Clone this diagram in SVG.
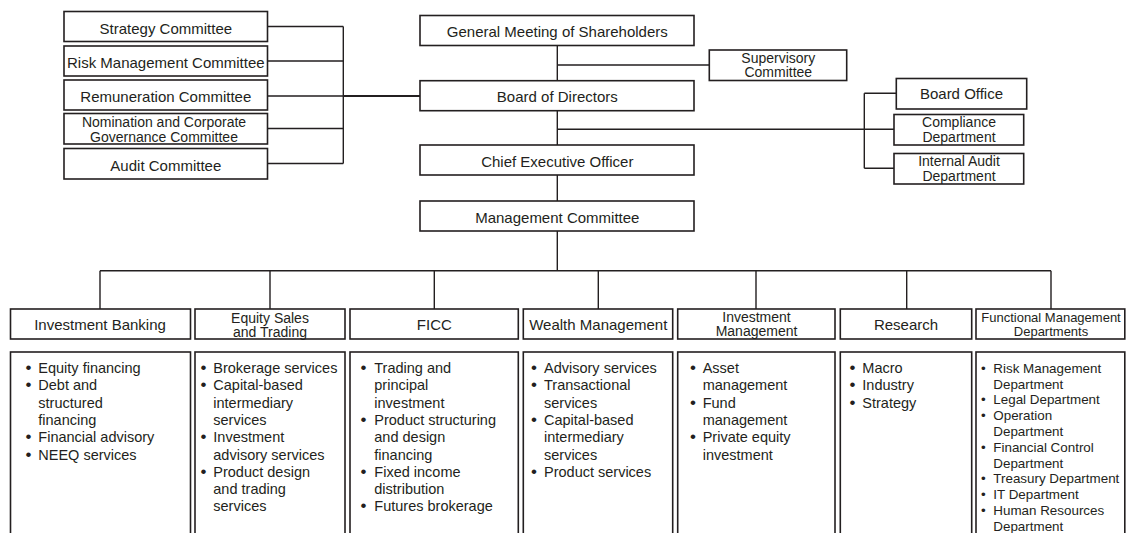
<svg xmlns="http://www.w3.org/2000/svg" width="1126" height="533" viewBox="0 0 1126 533">
  <style>
    .box { fill: #ffffff; stroke: #231f20; stroke-width: 1.6; }
    .ln { fill: none; stroke: #231f20; stroke-width: 1.4; }
    .thick { fill: none; stroke: #231f20; stroke-width: 2.2; }
    text { font-family: "Liberation Sans", Arial, sans-serif; fill: #231f20; }
    .t { font-size: 15px; text-anchor: middle; }
    .s { font-size: 14px; text-anchor: middle; }
    .fm { font-size: 13px; text-anchor: middle; }
    .li { font-size: 14.5px; }
    .lf { font-size: 13.4px; }
    .b { font-size: 17px; }
  </style>
  <rect width="1126" height="533" fill="#ffffff"/>

  <!-- connectors -->
  <g id="connectors">
    <!-- board committees -->
    <path class="ln" d="M267.5 26.5 H343.3 M267.5 61 H343.3 M267.5 96 H343.3 M267.5 128.5 H343.3 M267.5 163.5 H343.3 M343.3 26.5 V163.5"/>
    <path class="thick" d="M343.3 96 H420"/>
    <!-- shareholders / supervisory / board -->
    <path class="ln" d="M557.3 45.7 V80.7 M557.3 65 H709.3"/>
    <!-- board to CEO and board offices -->
    <path class="ln" d="M557.3 110.7 V145 M557.3 129.3 H894 M864.3 93.3 V168.3 M864.3 93.3 H896.3 M864.3 168.3 H894"/>
    <!-- CEO to management committee -->
    <path class="ln" d="M557.3 175 V201 M557.3 231 V270.7"/>
    <!-- business lines bus -->
    <path class="ln" d="M100 270.7 H1051 M100 270.7 V309 M270 270.7 V309 M434.3 270.7 V309 M598.3 270.7 V309 M756 270.7 V309 M906.7 270.7 V309 M1051 270.7 V309"/>
  </g>

  <!-- board committees -->
  <g id="strategy-committee">
    <rect class="box" x="64" y="11.5" width="203.5" height="30"/>
    <text class="t" x="165.8" y="33.5">Strategy Committee</text>
  </g>
  <g id="risk-management-committee">
    <rect class="box" x="64" y="46" width="203.5" height="30"/>
    <text class="t" x="165.8" y="67.5">Risk Management Committee</text>
  </g>
  <g id="remuneration-committee">
    <rect class="box" x="64" y="80" width="203.5" height="30"/>
    <text class="t" x="165.8" y="102">Remuneration Committee</text>
  </g>
  <g id="nomination-committee">
    <rect class="box" x="64" y="113.5" width="203.5" height="30.5"/>
    <text class="s" x="164" y="127.3">Nomination and Corporate</text>
    <text class="s" x="164" y="141.5">Governance Committee</text>
  </g>
  <g id="audit-committee">
    <rect class="box" x="64" y="148.5" width="203.5" height="30.5"/>
    <text class="t" x="165.8" y="170.5">Audit Committee</text>
  </g>

  <!-- governance spine -->
  <g id="general-meeting">
    <rect class="box" x="420" y="15.5" width="274" height="30"/>
    <text class="t" x="557.3" y="37.3">General Meeting of Shareholders</text>
  </g>
  <g id="supervisory-committee">
    <rect class="box" x="709.3" y="50" width="137.4" height="30.5"/>
    <text class="s" x="778.3" y="63.3">Supervisory</text>
    <text class="s" x="778.3" y="77.3">Committee</text>
  </g>
  <g id="board-of-directors">
    <rect class="box" x="420" y="80.7" width="274" height="30"/>
    <text class="t" x="557.3" y="102.3">Board of Directors</text>
  </g>
  <g id="ceo">
    <rect class="box" x="420" y="145" width="274" height="30"/>
    <text class="t" x="557.3" y="167">Chief Executive Officer</text>
  </g>
  <g id="management-committee">
    <rect class="box" x="420" y="201" width="274" height="30"/>
    <text class="t" x="557.3" y="223">Management Committee</text>
  </g>

  <!-- board offices -->
  <g id="board-office">
    <rect class="box" x="896.3" y="78.5" width="130.4" height="30.5"/>
    <text class="t" x="961.5" y="98.5">Board Office</text>
  </g>
  <g id="compliance-department">
    <rect class="box" x="894" y="114.5" width="129.7" height="30.5"/>
    <text class="s" x="959" y="127.3">Compliance</text>
    <text class="s" x="959" y="141.5">Department</text>
  </g>
  <g id="internal-audit-department">
    <rect class="box" x="894" y="153.5" width="129.7" height="30.5"/>
    <text class="s" x="959" y="166">Internal Audit</text>
    <text class="s" x="959" y="180.5">Department</text>
  </g>

  <!-- business lines -->
  <g id="investment-banking">
    <rect class="box" x="10.5" y="309" width="180" height="30"/>
    <text class="t" x="100" y="329.5">Investment Banking</text>
    <rect class="box" x="10.5" y="352" width="180" height="200"/>
    <text class="li">
      <tspan class="b" x="25.5" y="373">•</tspan><tspan x="38.3">Equity financing</tspan>
      <tspan class="b" x="25.5" y="390.3">•</tspan><tspan x="38.3">Debt and</tspan>
      <tspan x="38.3" y="407.6">structured</tspan>
      <tspan x="38.3" y="424.9">financing</tspan>
      <tspan class="b" x="25.5" y="442.2">•</tspan><tspan x="38.3">Financial advisory</tspan>
      <tspan class="b" x="25.5" y="459.5">•</tspan><tspan x="38.3">NEEQ services</tspan>
    </text>
  </g>
  <g id="equity-sales-trading">
    <rect class="box" x="195" y="309" width="150" height="30"/>
    <text class="s" x="270" y="322.8">Equity Sales</text>
    <text class="s" x="270" y="337.2">and Trading</text>
    <rect class="box" x="195" y="352" width="150" height="200"/>
    <text class="li">
      <tspan class="b" x="200.5" y="373">•</tspan><tspan x="213.3">Brokerage services</tspan>
      <tspan class="b" x="200.5" y="390.3">•</tspan><tspan x="213.3">Capital-based</tspan>
      <tspan x="213.3" y="407.6">intermediary</tspan>
      <tspan x="213.3" y="424.9">services</tspan>
      <tspan class="b" x="200.5" y="442.2">•</tspan><tspan x="213.3">Investment</tspan>
      <tspan x="213.3" y="459.5">advisory services</tspan>
      <tspan class="b" x="200.5" y="476.8">•</tspan><tspan x="213.3">Product design</tspan>
      <tspan x="213.3" y="494.1">and trading</tspan>
      <tspan x="213.3" y="511.4">services</tspan>
    </text>
  </g>
  <g id="ficc">
    <rect class="box" x="350" y="309" width="168.3" height="30"/>
    <text class="t" x="434.3" y="329.5">FICC</text>
    <rect class="box" x="350" y="352" width="168.3" height="200"/>
    <text class="li">
      <tspan class="b" x="360.5" y="373">•</tspan><tspan x="374.3">Trading and</tspan>
      <tspan x="374.3" y="390.3">principal</tspan>
      <tspan x="374.3" y="407.6">investment</tspan>
      <tspan class="b" x="360.5" y="424.9">•</tspan><tspan x="374.3">Product structuring</tspan>
      <tspan x="374.3" y="442.2">and design</tspan>
      <tspan x="374.3" y="459.5">financing</tspan>
      <tspan class="b" x="360.5" y="476.8">•</tspan><tspan x="374.3">Fixed income</tspan>
      <tspan x="374.3" y="494.1">distribution</tspan>
      <tspan class="b" x="360.5" y="511.4">•</tspan><tspan x="374.3">Futures brokerage</tspan>
    </text>
  </g>
  <g id="wealth-management">
    <rect class="box" x="523.3" y="309" width="149.4" height="30"/>
    <text class="t" x="598.3" y="329.5">Wealth Management</text>
    <rect class="box" x="523.3" y="352" width="149.4" height="200"/>
    <text class="li">
      <tspan class="b" x="531" y="373">•</tspan><tspan x="544">Advisory services</tspan>
      <tspan class="b" x="531" y="390.3">•</tspan><tspan x="544">Transactional</tspan>
      <tspan x="544" y="407.6">services</tspan>
      <tspan class="b" x="531" y="424.9">•</tspan><tspan x="544">Capital-based</tspan>
      <tspan x="544" y="442.2">intermediary</tspan>
      <tspan x="544" y="459.5">services</tspan>
      <tspan class="b" x="531" y="476.8">•</tspan><tspan x="544">Product services</tspan>
    </text>
  </g>
  <g id="investment-management">
    <rect class="box" x="677.7" y="309" width="157.3" height="30"/>
    <text class="s" x="756.5" y="321.7">Investment</text>
    <text class="s" x="756.5" y="336">Management</text>
    <rect class="box" x="677.7" y="352" width="157.3" height="200"/>
    <text class="li">
      <tspan class="b" x="690" y="373">•</tspan><tspan x="702.7">Asset</tspan>
      <tspan x="702.7" y="390.3">management</tspan>
      <tspan class="b" x="690" y="407.6">•</tspan><tspan x="702.7">Fund</tspan>
      <tspan x="702.7" y="424.9">management</tspan>
      <tspan class="b" x="690" y="442.2">•</tspan><tspan x="702.7">Private equity</tspan>
      <tspan x="702.7" y="459.5">investment</tspan>
    </text>
  </g>
  <g id="research">
    <rect class="box" x="840.3" y="309" width="131.4" height="30"/>
    <text class="t" x="906" y="329.5">Research</text>
    <rect class="box" x="840.3" y="352" width="131.4" height="200"/>
    <text class="li">
      <tspan class="b" x="849.5" y="373">•</tspan><tspan x="862.3">Macro</tspan>
      <tspan class="b" x="849.5" y="390.3">•</tspan><tspan x="862.3">Industry</tspan>
      <tspan class="b" x="849.5" y="407.6">•</tspan><tspan x="862.3">Strategy</tspan>
    </text>
  </g>
  <g id="functional-management">
    <rect class="box" x="976" y="309" width="148.8" height="30"/>
    <text class="fm" x="1051" y="321.7">Functional Management</text>
    <text class="fm" x="1051" y="336">Departments</text>
    <rect class="box" x="976" y="352" width="148.8" height="200"/>
    <text class="lf">
      <tspan x="981" y="372.7">•</tspan><tspan x="993.3">Risk Management</tspan>
      <tspan x="993.3" y="388.5">Department</tspan>
      <tspan x="981" y="404.3">•</tspan><tspan x="993.3">Legal Department</tspan>
      <tspan x="981" y="420.1">•</tspan><tspan x="993.3">Operation</tspan>
      <tspan x="993.3" y="435.9">Department</tspan>
      <tspan x="981" y="451.7">•</tspan><tspan x="993.3">Financial Control</tspan>
      <tspan x="993.3" y="467.5">Department</tspan>
      <tspan x="981" y="483.3">•</tspan><tspan x="993.3">Treasury Department</tspan>
      <tspan x="981" y="499.1">•</tspan><tspan x="993.3">IT Department</tspan>
      <tspan x="981" y="514.9">•</tspan><tspan x="993.3">Human Resources</tspan>
      <tspan x="993.3" y="530.7">Department</tspan>
    </text>
  </g>
</svg>
